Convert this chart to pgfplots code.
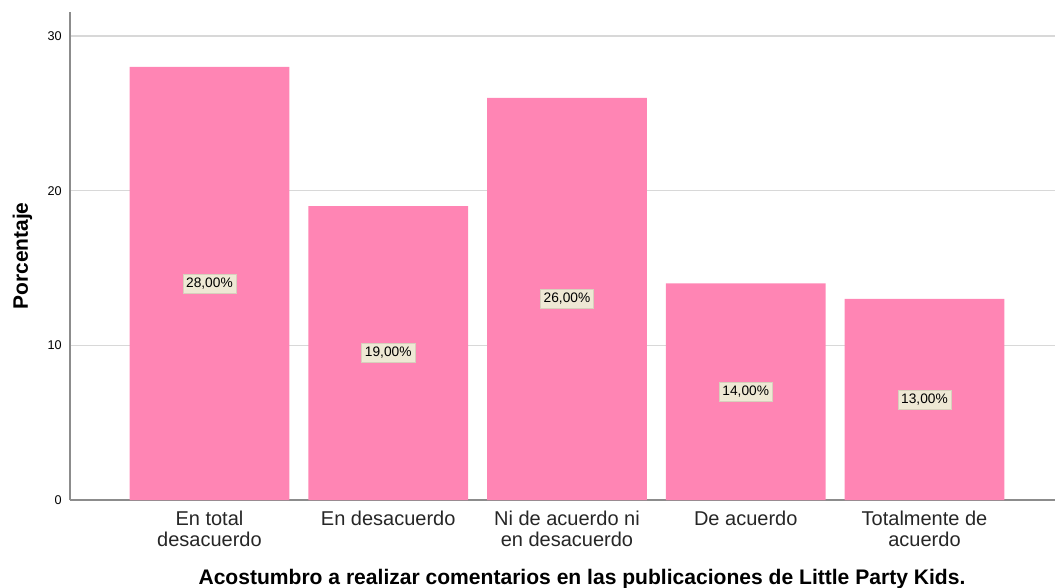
\documentclass[border=0pt]{standalone}
\usepackage{fontspec}
\setmainfont{Liberation Sans}
\usepackage{pgfplots}
\pgfplotsset{compat=1.18}
\definecolor{barpink}{RGB}{255,133,180}
\definecolor{boxfill}{RGB}{238,232,212}
\definecolor{boxdraw}{RGB}{215,208,188}
\definecolor{gridgray}{RGB}{216,216,216}
\definecolor{axisgray}{RGB}{140,140,140}
\begin{document}
\begin{tikzpicture}
\useasboundingbox (-52.5pt,-66pt) rectangle (738.75pt,375pt);
\begin{axis}[
  at={(0,0)}, anchor=south west,
  scale only axis, width=738.75pt, height=366pt,
  xmin=-0.78, xmax=4.73, ymin=0, ymax=31.55,
  axis lines*=left,
  axis line style={axisgray, line width=1.2pt},
  major tick length=0pt,
  ytick={0,10,20,30},
  ymajorgrids,
  grid style={gridgray, line width=1.1pt},
  yticklabel style={font=\fontsize{9.5}{11}\selectfont, inner sep=0pt, xshift=-6pt},
  /pgf/number format/assume math mode=true,
  xtick={0,1,2,3,4},
  xticklabels={{En total\\desacuerdo},{En desacuerdo},{Ni de acuerdo ni\\en desacuerdo},{De acuerdo},{Totalmente de\\acuerdo}},
  xticklabel style={align=center, font=\fontsize{15}{15.75}\selectfont, inner sep=0pt, yshift=-8pt, text=black!85},
  xlabel={Acostumbro a realizar comentarios en las publicaciones de Little Party Kids.},
  xlabel style={at={(axis description cs:0.5,0)}, anchor=base, yshift=-63pt, xshift=14.6pt, font=\bfseries\fontsize{15.8}{18}\selectfont},
  ylabel={Porcentaje},
  ylabel style={at={(axis description cs:0,0.5)}, anchor=base, xshift=0pt, yshift=31.5pt, font=\bfseries\fontsize{15.7}{18}\selectfont},
]
\addplot[ybar, bar width=0.894, fill=barpink, draw=none,
  point meta=explicit symbolic,
  nodes near coords,
  visualization depends on=y \as \rawy,
  every node near coord/.append style={anchor=center, shift={(axis direction cs:0,-\rawy/2)}, fill=boxfill, draw=boxdraw, line width=0.4pt, text=black, font=\fontsize{10.3}{12}\selectfont, inner xsep=2.5pt, inner ysep=3pt}]
coordinates {(0,28) [28,00\%] (1,19) [19,00\%] (2,26) [26,00\%] (3,14) [14,00\%] (4,13) [13,00\%]};
\end{axis}
\end{tikzpicture}
\end{document}
